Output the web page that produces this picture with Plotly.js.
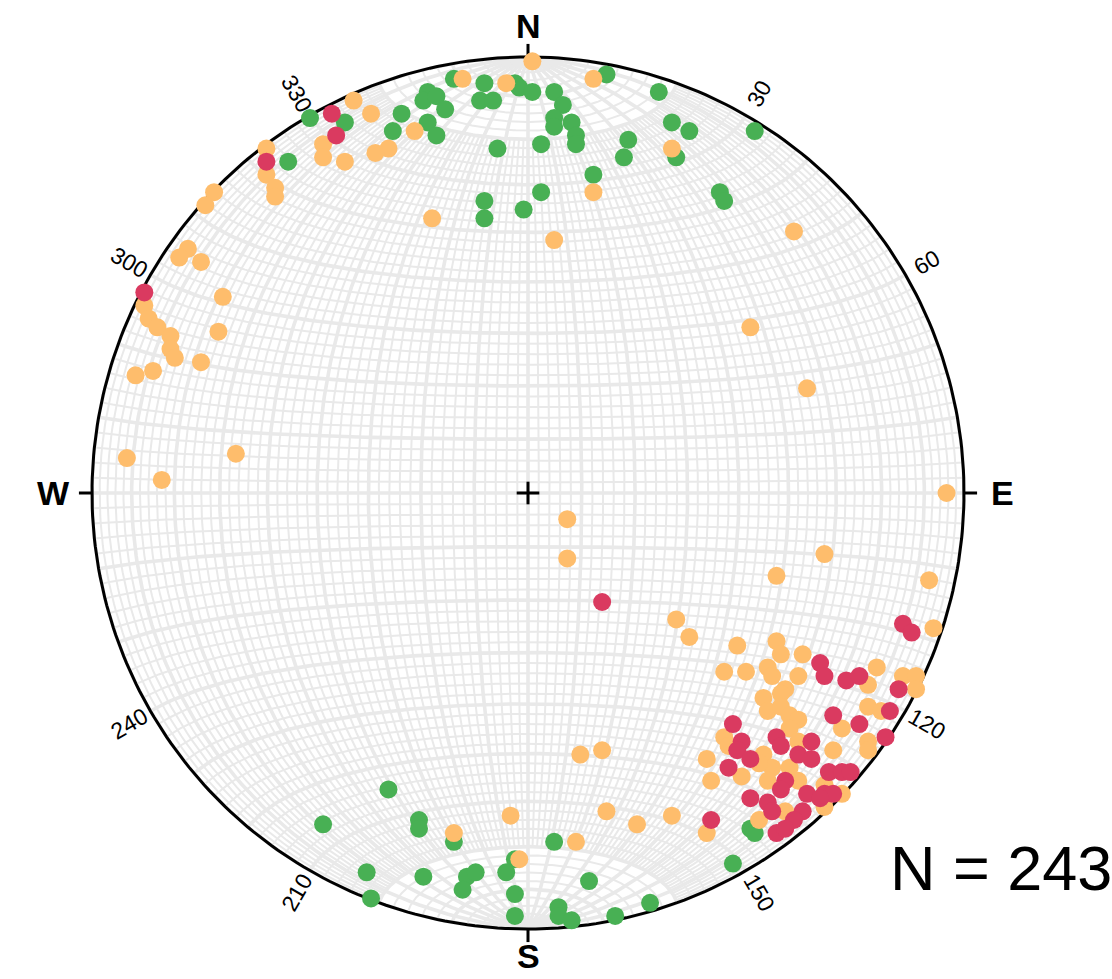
<!DOCTYPE html>
<html>
<head>
<meta charset="utf-8">
<script src="https://cdn.plot.ly/plotly-3.0.1.min.js"></script>
<style>html,body{margin:0;padding:0;background:#fff;}#chart{width:1112px;height:979px;}</style>
</head>
<body>
<div id="chart"></div>
<script>
// Projected positions (equal-area net, primitive radius = 100; x = east, y = north)
const greenX = [-55,-50,-42,-29,-31,-23,-24,-21,-19,-23,-21,-17,-10,-11,-8,-3,-2,1,6,8,6,10,6,11,11,-7,3,18,30,33,37,23,22,34,15,3,-10,-10,-1,52,44,45,
  -32,-47,-25,-25,-17,-37,-36,-24,-14,-12,-15,-3,-5,-3,-3,6,14,7,7,10,20,28,47,51,52];
const greenY = [76,86,85,87,83,92,90,91,88,85,82,95,94,90,90,94,93,92,92,89,86,85,84,82,80,79,80,96,92,85,83,81,77,77,73,69,67,63,65,83,69,67,
  -68,-76,-75,-77,-80,-87,-93,-88,-88,-87,-91,-84,-87,-92,-97,-80,-89,-95,-97,-98,-97,-94,-85,-77,-78];

const orangeX = [-60,-60,-58,-58,-40,-36,-47,-47,-42,-32,-35,-26,-15,-22,1,-5,15,33,15,6,61,
  -72,-74,-78,-80,-75,-88,-87,-85,-82,-70,-82,-81,-75,-71,-90,-86,-92,-84,-67,
  51,64,96,9,9,68,57,34,37,92,93,
  48,57,58,45,50,55,56,63,62,80,78,86,89,59,54,58,55,58,60,62,45,46,41,42,49,54,56,55,53,60,62,60,62,68,59,53,41,
  89,78,81,72,78,78,70,72,68,-17,-4,-2,12,17,18,25,33,11];
const orangeY = [79,73,70,68,90,87,80,77,76,79,78,83,95,63,99,94,95,79,69,58,60,
  69,66,56,54,53,43,40,38,36,45,33,31,30,37,27,28,8,3,9,
  38,24,0,-6,-15,-14,-19,-29,-33,-20,-31,
  -35,-34,-37,-41,-41,-40,-42,-37,-42,-40,-44,-42,-42,-45,-47,-46,-50,-49,-51,-52,-56,-58,-61,-66,-65,-60,-63,-66,-62,-54,-57,-63,-66,-67,-73,-75,-78,
  -45,-49,-50,-54,-57,-59,-59,-69,-72,-78,-74,-84,-60,-59,-73,-76,-74,-80];

const redX = [-60,-45,-44,-88,17,86,88,67,68,73,76,85,83,70,76,82,69,72,74,68,70,47,49,48,51,46,57,58,62,65,65,59,58,51,55,56,64,67,63,61,42,57,59];
const redY = [76,87,82,46,-25,-30,-32,-39,-42,-43,-42,-45,-50,-51,-53,-56,-64,-64,-64,-69,-69,-53,-57,-59,-61,-63,-56,-58,-60,-57,-61,-66,-68,-70,-71,-73,-69,-70,-73,-75,-75,-78,-77];

const azimuthLabels = [30, 60, 120, 150, 210, 240, 300, 330];
const cardinalLabels = ['N', 'E', 'S', 'W'];
const cardinalAz = [0, 90, 180, 270];
const countText = 'N = 243';

const R = 100;
const rad = d => d * Math.PI / 180;
function proj(e, n, d) { const k = R / Math.sqrt(1 + d); return [e * k, n * k]; }

// Schmidt net grid
const minX = [], minY = [], majX = [], majY = [];
for (let dip = 0; dip <= 180; dip += 2) {
  const major = dip % 10 === 0;
  const X = major ? majX : minX, Y = major ? majY : minY;
  const l0 = major ? 0 : 20, l1 = major ? 180 : 160;
  for (let l = l0; l <= l1; l += 1) {
    const e = Math.sin(rad(l)) * Math.cos(rad(dip));
    const n = Math.cos(rad(l));
    const d = Math.sin(rad(l)) * Math.sin(rad(dip));
    const p = proj(e, n, d); X.push(p[0]); Y.push(p[1]);
  }
  X.push(null); Y.push(null);
}
for (let a = 2; a <= 178; a += 2) {
  const major = a % 10 === 0;
  const X = major ? majX : minX, Y = major ? majY : minY;
  for (let b = 0; b <= 180; b += 1) {
    const e = Math.sin(rad(a)) * Math.cos(rad(b));
    const n = Math.cos(rad(a));
    const d = Math.sin(rad(a)) * Math.sin(rad(b));
    const p = proj(e, n, d); X.push(p[0]); Y.push(p[1]);
  }
  X.push(null); Y.push(null);
}
const cX = [], cY = [];
for (let t = 0; t <= 360; t += 1) { cX.push(R * Math.sin(rad(t))); cY.push(R * Math.cos(rad(t))); }

const tX = [], tY = [];
cardinalAz.forEach(az => {
  tX.push(R * Math.sin(rad(az)), 103 * Math.sin(rad(az)), null);
  tY.push(R * Math.cos(rad(az)), 103 * Math.cos(rad(az)), null);
});

const gridColor = '#e9e9e9';
const traces = [
  {x: minX, y: minY, mode: 'lines', line: {color: gridColor, width: 2}, hoverinfo: 'skip'},
  {x: majX, y: majY, mode: 'lines', line: {color: gridColor, width: 3.6}, hoverinfo: 'skip'},
  {x: cX, y: cY, mode: 'lines', line: {color: '#000', width: 3}, hoverinfo: 'skip'},
  {x: tX, y: tY, mode: 'lines', line: {color: '#000', width: 3}, hoverinfo: 'skip'},
  {x: [-2.6, 2.6, null, 0, 0], y: [0, 0, null, -2.6, 2.6], mode: 'lines', line: {color: '#000', width: 3}, hoverinfo: 'skip'},
  {x: greenX, y: greenY, mode: 'markers', marker: {color: '#48b054', size: 18, line: {width: 0}}},
  {x: orangeX, y: orangeY, mode: 'markers', marker: {color: '#febd6c', size: 18, line: {width: 0}}},
  {x: redX, y: redY, mode: 'markers', marker: {color: '#da3a60', size: 18, line: {width: 0}}}
];

const annotations = [];
azimuthLabels.forEach(az => {
  const r = 105.8;
  const ang = az < 180 ? az - 90 : az - 270;
  annotations.push({x: r * Math.sin(rad(az)), y: r * Math.cos(rad(az)), xref: 'x', yref: 'y',
    text: String(az), showarrow: false, textangle: ang,
    font: {family: 'Liberation Sans, Arial, sans-serif', size: 23, color: '#000'}});
});
cardinalLabels.forEach((c, i) => {
  const az = cardinalAz[i];
  const r = (az === 90 || az === 270) ? 108.8 : (az === 180 ? 106.2 : 107.5);
  annotations.push({x: r * Math.sin(rad(az)), y: r * Math.cos(rad(az)) + (az === 0 ? -0.5 : 0), xref: 'x', yref: 'y',
    text: '<b>' + c + '</b>', showarrow: false,
    font: {family: 'Liberation Sans, Arial, sans-serif', size: 34, color: '#000'}});
});
annotations.push({x: 82.5, y: -86, xref: 'x', yref: 'y', xanchor: 'left', yanchor: 'middle',
  text: countText, showarrow: false, font: {family: 'Liberation Sans, Arial, sans-serif', size: 63, color: '#000'}});

const layout = {
  width: 1112, height: 979,
  margin: {l: 0, r: 0, t: 0, b: 0},
  paper_bgcolor: '#fff', plot_bgcolor: '#fff',
  showlegend: false, hovermode: false,
  xaxis: {range: [-528 / 4.36, 584 / 4.36], visible: false, fixedrange: true},
  yaxis: {range: [-486 / 4.36, 493 / 4.36], visible: false, fixedrange: true},
  annotations: annotations
};
Plotly.newPlot('chart', traces, layout, {displayModeBar: false, staticPlot: true});
</script>
</body>
</html>
